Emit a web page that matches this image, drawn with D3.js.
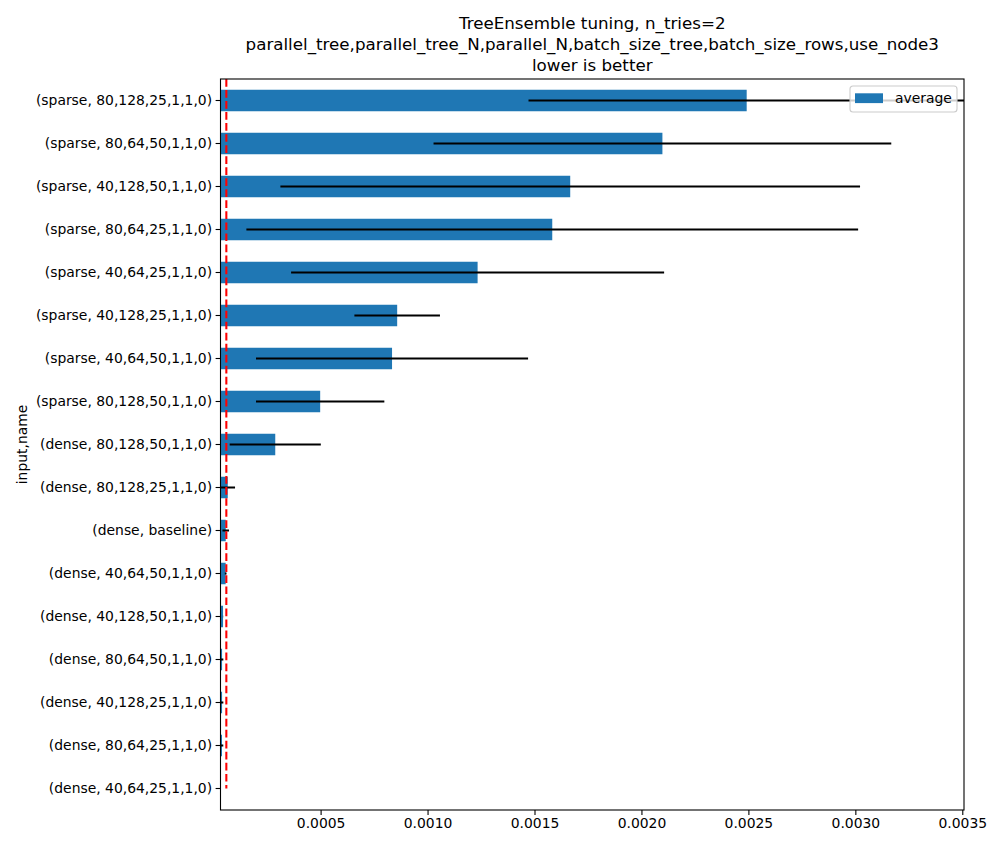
<!DOCTYPE html>
<html>
<head>
<meta charset="utf-8">
<script src="https://cdn.jsdelivr.net/npm/d3@7"></script>
<style>
  body { margin: 0; background: #fff; }
  text { font-family: "DejaVu Sans", sans-serif; fill: #000; }
</style>
</head>
<body>
<svg id="chart"></svg>
<script>
// rows, top to bottom
var names = [
  "(sparse, 80,128,25,1,1,0)",
  "(sparse, 80,64,50,1,1,0)",
  "(sparse, 40,128,50,1,1,0)",
  "(sparse, 80,64,25,1,1,0)",
  "(sparse, 40,64,25,1,1,0)",
  "(sparse, 40,128,25,1,1,0)",
  "(sparse, 40,64,50,1,1,0)",
  "(sparse, 80,128,50,1,1,0)",
  "(dense, 80,128,50,1,1,0)",
  "(dense, 80,128,25,1,1,0)",
  "(dense, baseline)",
  "(dense, 40,64,50,1,1,0)",
  "(dense, 40,128,50,1,1,0)",
  "(dense, 80,64,50,1,1,0)",
  "(dense, 40,128,25,1,1,0)",
  "(dense, 80,64,25,1,1,0)",
  "(dense, 40,64,25,1,1,0)"
];
var average = [
  0.002492, 0.002098, 0.001667, 0.001583, 0.001234, 0.000858, 0.000834,
  0.000498, 0.000288, 0.0000659, 0.0000565, 0.0000562, 0.0000439,
  0.0000393, 0.0000393, 0.0000390, 0.0000300
];
var deviation = [
  0.00102, 0.00107, 0.001355, 0.00143, 0.000872, 0.0002, 0.000636,
  0.0003, 0.000213, 0.0000341, 0.0000154, 0.000004, 0.0000005,
  0.000006, 0.000006, 0.000006, 0.000002
];
var baseline = 0.0000593;
var xTicks = [0.0005, 0.0010, 0.0015, 0.0020, 0.0025, 0.0030, 0.0035];
var titleLines = [
  "TreeEnsemble tuning, n_tries=2",
  "parallel_tree,parallel_tree_N,parallel_N,batch_size_tree,batch_size_rows,use_node3",
  "lower is better"
];

var screen = {width:1000, height:850};
var margins = {left:220.5, right:36, top:79, bottom:40};
var graph = {
  width: screen.width - margins.left - margins.right,
  height: screen.height - margins.top - margins.bottom
};

var svg = d3.select("#chart")
  .attr("width", screen.width)
  .attr("height", screen.height);

var xScale = d3.scaleLinear()
  .domain([0.000032, 0.003508])
  .range([0, graph.width]);

var yScale = d3.scaleBand()
  .domain(names)
  .range([0, graph.height])
  .paddingInner(0.5)
  .paddingOuter(0.25);

var plot = svg.append("g")
  .attr("transform", "translate(" + margins.left + "," + margins.top + ")");

svg.append("defs").append("clipPath").attr("id", "clip")
  .append("rect").attr("width", graph.width).attr("height", graph.height);

var inner = plot.append("g").attr("clip-path", "url(#clip)");

var rows = names.map(function(n, i) {
  return {name:n, avg:average[i], dev:deviation[i]};
});

// bars (start at 0, clipped by the axis)
inner.selectAll("rect.bar")
  .data(rows)
  .enter().append("rect")
  .attr("class", "bar")
  .attr("x", xScale(0))
  .attr("y", function(d){ return yScale(d.name); })
  .attr("width", function(d){ return xScale(d.avg) - xScale(0); })
  .attr("height", yScale.bandwidth())
  .attr("fill", "#1f77b4");

// error bars
inner.selectAll("line.err")
  .data(rows)
  .enter().append("line")
  .attr("class", "err")
  .attr("x1", function(d){ return xScale(d.avg - d.dev); })
  .attr("x2", function(d){ return xScale(d.avg + d.dev); })
  .attr("y1", function(d){ return yScale(d.name) + yScale.bandwidth()/2; })
  .attr("y2", function(d){ return yScale(d.name) + yScale.bandwidth()/2; })
  .attr("stroke", "#000")
  .attr("stroke-width", 2.08);

// baseline
inner.append("line")
  .attr("x1", xScale(baseline)).attr("x2", xScale(baseline))
  .attr("y1", 0)
  .attr("y2", yScale(names[names.length-1]) + yScale.bandwidth()/2)
  .attr("stroke", "red")
  .attr("stroke-width", 2.08)
  .attr("stroke-dasharray", "7.7,3.33");

// axes
var xAxis = d3.axisBottom(xScale)
  .tickValues(xTicks)
  .tickFormat(d3.format(".4f"))
  .tickSize(4.9).tickPadding(3.5).tickSizeOuter(0);
var yAxis = d3.axisLeft(yScale)
  .tickSize(4.9).tickPadding(3.5).tickSizeOuter(0);

var gx = plot.append("g")
  .attr("transform", "translate(0," + graph.height + ")")
  .call(xAxis);
var gy = plot.append("g").call(yAxis);

[gx, gy].forEach(function(g){
  g.selectAll("text").style("font-size", "13.9px").attr("fill", "#000");
  g.selectAll("line").attr("stroke", "#000").attr("stroke-width", 1.1);
  g.select(".domain").remove();
});

// frame
plot.append("rect")
  .attr("width", graph.width).attr("height", graph.height)
  .attr("fill", "none").attr("stroke", "#000").attr("stroke-width", 1.1);

// legend
var legend = plot.append("g")
  .attr("transform", "translate(" + (graph.width - 114) + ",7)");
legend.append("rect")
  .attr("width", 107).attr("height", 26).attr("rx", 3)
  .attr("fill", "#fff").attr("fill-opacity", 0.8)
  .attr("stroke", "#ccc").attr("stroke-width", 1.1);
legend.append("rect")
  .attr("x", 5).attr("y", 7.3).attr("width", 28).attr("height", 9.8)
  .attr("fill", "#1f77b4");
legend.append("text")
  .attr("x", 45).attr("y", 17)
  .style("font-size", "13.9px")
  .text("average");

// labels
svg.append("g")
  .attr("transform", "translate(27," + (margins.top + graph.height/2) + ")")
  .append("text")
  .attr("transform", "rotate(-90)")
  .attr("text-anchor", "middle")
  .style("font-size", "13.9px")
  .text("input,name");

svg.selectAll("text.title")
  .data(titleLines)
  .enter().append("text")
  .attr("class", "title")
  .attr("x", margins.left + graph.width/2)
  .attr("y", function(d, i){ return 29 + i*21; })
  .attr("text-anchor", "middle")
  .style("font-size", "16.7px")
  .text(function(d){ return d; });
</script>
</body>
</html>
